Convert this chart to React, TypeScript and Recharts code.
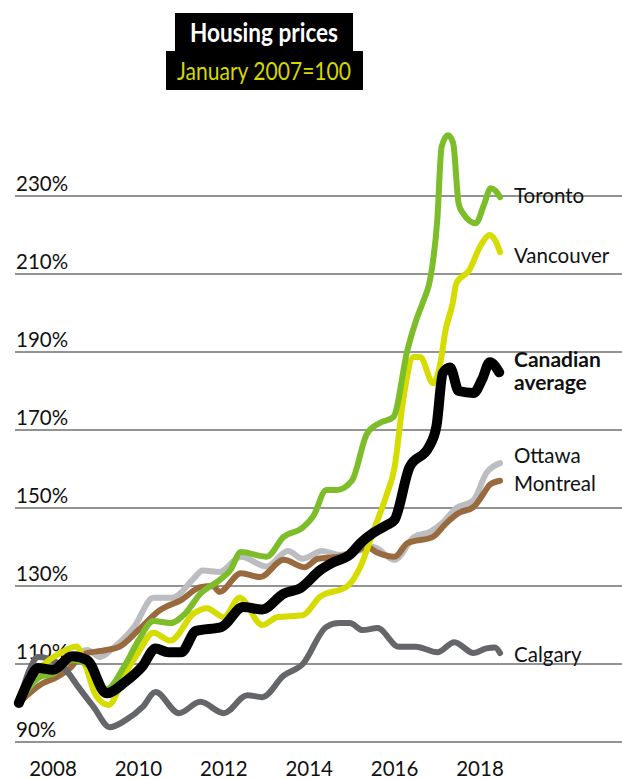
import React from "react";
import { LineChart, Line, XAxis, YAxis, ReferenceLine } from "recharts";

// [year, index] pairs (January 2007 = 100)
const canadian: [number, number][] = [
    [2007.2, 100], [2007.45, 106], [2007.65, 109], [2008.0, 108.5], [2008.45, 112], [2008.8, 111],
    [2009.25, 102.5], [2009.7, 105.5], [2010.1, 109.5], [2010.4, 114], [2010.7, 113], [2011.0, 113],
    [2011.35, 118.5], [2011.95, 119.5], [2012.45, 124.6], [2012.9, 124], [2013.4, 128], [2013.8, 129.5],
    [2014.25, 134], [2014.55, 136], [2014.95, 138], [2015.2, 141], [2015.5, 143.6], [2015.8, 145.5],
    [2016.0, 147], [2016.35, 160.5], [2016.8, 165.6], [2016.98, 171], [2017.13, 184.6], [2017.3, 186],
    [2017.5, 180], [2017.85, 179.5], [2018.05, 183], [2018.23, 187.4], [2018.45, 184.8],
];

const toronto: [number, number][] = [
    [2007.2, 100], [2007.7, 106.7], [2008.0, 107.5], [2008.45, 111], [2008.85, 109.5], [2009.25, 103.5],
    [2009.7, 110], [2010.0, 116], [2010.35, 121], [2010.75, 120.5], [2011.1, 123], [2011.45, 128],
    [2011.9, 131.5], [2012.15, 134], [2012.4, 138.7], [2013.0, 137.5], [2013.4, 142.6], [2013.85, 145],
    [2014.1, 148], [2014.4, 154.6], [2014.65, 154.6], [2015.0, 157], [2015.35, 169], [2015.65, 171.8],
    [2015.97, 173.3], [2016.3, 190.5], [2016.5, 198], [2016.67, 203], [2016.83, 208.5], [2017.0, 224],
    [2017.1, 242.6], [2017.25, 245.6], [2017.37, 243.6], [2017.5, 228], [2017.6, 225.6], [2017.9, 223],
    [2018.1, 228], [2018.25, 232], [2018.35, 231.5], [2018.47, 229.7],
];

const vancouver: [number, number][] = [
    [2007.2, 100], [2007.5, 106], [2007.8, 110], [2008.2, 113], [2008.55, 114.5], [2008.75, 110],
    [2009.0, 102], [2009.3, 99.5], [2009.7, 107.7], [2010.0, 113], [2010.35, 118], [2010.75, 116],
    [2011.3, 123], [2011.6, 124.3], [2012.0, 122], [2012.37, 127], [2012.9, 120], [2013.25, 122],
    [2013.85, 122.5], [2014.25, 127.2], [2014.9, 130], [2015.2, 135], [2015.5, 144], [2015.8, 153],
    [2016.0, 160.5], [2016.2, 177.7], [2016.45, 188.7], [2016.6, 188.7], [2016.9, 182], [2017.05, 186],
    [2017.2, 196], [2017.35, 202], [2017.45, 207.7], [2017.75, 211], [2018.0, 217], [2018.23, 220],
    [2018.35, 218.7], [2018.47, 215.6],
];

const ottawa: [number, number][] = [
    [2007.2, 100], [2007.5, 105], [2007.9, 108], [2008.3, 110.5], [2008.8, 113.6], [2009.1, 111.8],
    [2009.4, 114], [2009.9, 119.5], [2010.35, 127], [2010.8, 127], [2011.3, 132], [2011.5, 134],
    [2011.9, 133.6], [2012.4, 137.5], [2013.0, 135], [2013.5, 139], [2013.85, 137], [2014.3, 139],
    [2014.7, 138], [2015.0, 138.5], [2015.5, 140], [2016.0, 136.7], [2016.45, 142.5], [2016.85, 144],
    [2017.1, 146], [2017.45, 150], [2017.85, 152], [2018.15, 159], [2018.47, 161.5],
];

const montreal: [number, number][] = [
    [2007.2, 100], [2007.75, 105], [2008.1, 106.7], [2008.4, 109], [2008.7, 112.5], [2009.25, 113.6],
    [2009.55, 114.4], [2010.0, 118.7], [2010.5, 123.8], [2011.0, 126.4], [2011.45, 129.7], [2011.75, 130],
    [2011.9, 128.5], [2012.4, 133.3], [2012.85, 132.3], [2013.4, 136.7], [2013.9, 134.8], [2014.2, 137],
    [2014.7, 137.5], [2015.0, 138.5], [2015.35, 140], [2015.6, 138.5], [2016.0, 137.5], [2016.3, 141],
    [2016.9, 142.6], [2017.2, 146], [2017.5, 148.7], [2017.85, 150.3], [2018.1, 154], [2018.23, 156],
    [2018.47, 157],
];

const calgary: [number, number][] = [
    [2007.2, 100], [2007.45, 108.5], [2007.65, 111.8], [2007.85, 111.5], [2008.3, 108.5], [2008.6, 104],
    [2008.95, 99], [2009.33, 93.8], [2009.7, 95.6], [2010.1, 99], [2010.4, 102.8], [2010.95, 97.4],
    [2011.45, 100.3], [2012.0, 97.4], [2012.55, 102], [2012.9, 101.5], [2013.4, 107], [2013.85, 110],
    [2014.4, 119.5], [2014.7, 120.5], [2014.95, 120.5], [2015.25, 118.7], [2015.6, 119.2], [2016.1, 114.4],
    [2016.5, 114.4], [2017.0, 113], [2017.4, 115.6], [2017.85, 112.8], [2018.15, 114], [2018.35, 114.2],
    [2018.47, 112.8],
];

const yearTicks = [2008, 2010, 2012, 2014, 2016, 2018];
const pctTicks = [90, 110, 130, 150, 170, 190, 210, 230];

const font = "Lato, 'Open Sans', sans-serif";

const toPts = (arr: [number, number][]) => arr.map(([x, v]) => ({ x, v }));

const series = [
    { name: "ottawa", data: ottawa, color: "#bcbdc0", width: 6 },
    { name: "montreal", data: montreal, color: "#9a6a3f", width: 6 },
    { name: "calgary", data: calgary, color: "#656669", width: 6 },
    { name: "vancouver", data: vancouver, color: "#d6dc00", width: 6 },
    { name: "toronto", data: toronto, color: "#7dbd2a", width: 6 },
    { name: "canadian", data: canadian, color: "#000000", width: 10 },
];

const GridLabel = ({ viewBox, text }: any) => (
    <text x={16} y={(viewBox?.y ?? 0) - 5.5} fontSize={20.5} fontFamily={font} fill="#111">
        {text}
    </text>
);

const XTick = ({ x, y, payload }: any) => (
    <text x={x} y={y + 22} textAnchor="middle" fontSize={20.5} fontFamily={font} fill="#111">
        {payload.value}
    </text>
);

const labels = [
    { text: "Toronto", y: 203, bold: false },
    { text: "Vancouver", y: 263, bold: false },
    { text: "Canadian", y: 367, bold: true },
    { text: "average", y: 390, bold: true },
    { text: "Ottawa", y: 463, bold: false },
    { text: "Montreal", y: 491, bold: false },
    { text: "Calgary", y: 662, bold: false },
];

export default function App() {
    return (
        <div style={{ position: "absolute", left: 0, top: 0, width: 622, height: 779, background: "#fff" }}>
            <LineChart width={622} height={779} margin={{ top: 118, right: 0, left: 15, bottom: 0 }}>
                <XAxis
                    dataKey="x" type="number" domain={[2007.11, 2021.325]}
                    ticks={yearTicks} tick={<XTick />} axisLine={false} tickLine={false}
                    tickSize={0} tickMargin={0} height={25.3} interval={0}
                />
                <YAxis type="number" domain={[87, 250]} hide />
                {pctTicks.map((t) => (
                    <ReferenceLine
                        key={t} y={t} stroke="#6f6f6f" strokeWidth={1.3}
                        label={<GridLabel text={`${t}%`} />}
                    />
                ))}
                {series.map((s) => (
                    <Line
                        key={s.name} data={toPts(s.data)} dataKey="v" type="monotone"
                        stroke={s.color} strokeWidth={s.width} dot={false}
                        strokeLinecap="round" strokeLinejoin="round" isAnimationActive={false}
                    />
                ))}
            </LineChart>
            <svg width={622} height={779} style={{ position: "absolute", left: 0, top: 0, pointerEvents: "none" }}>
                <rect x={175} y={13} width={178} height={39} fill="#000" />
                <rect x={166} y={51} width={197} height={39} fill="#000" />
                <text x={190} y={42} fontSize={27} fontWeight={700} fontFamily={font} fill="#fff"
                    textLength={148} lengthAdjust="spacingAndGlyphs">Housing prices</text>
                <text x={177} y={80} fontSize={25} fontFamily={font} fill="#d4d800"
                    textLength={174} lengthAdjust="spacingAndGlyphs">January 2007=100</text>
                {labels.map((l) => (
                    <text key={l.text} x={514} y={l.y} fontSize={l.bold ? 21 : 20.5}
                        fontWeight={l.bold ? 700 : 400} fontFamily={font} fill="#111">
                        {l.text}
                    </text>
                ))}
            </svg>
        </div>
    );
}
